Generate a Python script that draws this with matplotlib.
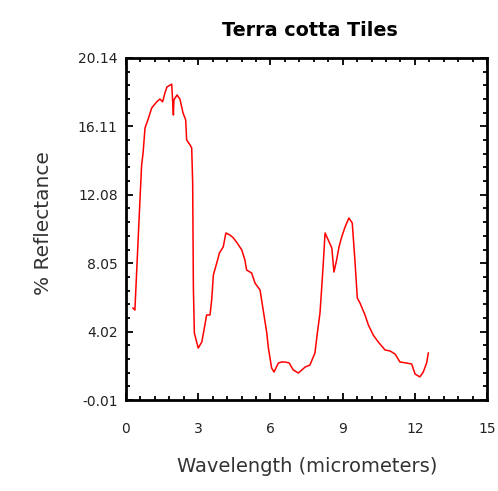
import matplotlib
matplotlib.use('Agg')
import matplotlib.pyplot as plt
from matplotlib.ticker import MultipleLocator, FixedLocator

plt.rcParams['font.family'] = ['DejaVu Sans']

# spectrum
wavelength = [0.29, 0.37, 0.58, 0.65, 0.71, 0.79, 0.91, 1.07, 1.28, 1.41, 1.52, 1.62, 1.70,
              1.90, 1.97, 1.99, 2.12, 2.24, 2.37, 2.48, 2.52, 2.66, 2.73, 2.77, 2.80, 2.84,
              3.00, 3.15, 3.24, 3.35, 3.49, 3.56, 3.63, 3.77, 3.88, 4.04, 4.15, 4.32, 4.46,
              4.62, 4.81, 4.94, 5.01, 5.22, 5.36, 5.57, 5.70, 5.85, 5.91, 6.05, 6.15, 6.33,
              6.47, 6.61, 6.78, 6.95, 7.16, 7.44, 7.64, 7.85, 7.95, 8.06, 8.13, 8.20, 8.27,
              8.40, 8.55, 8.64, 8.75, 8.85, 8.96, 9.10, 9.26, 9.40, 9.51, 9.61, 9.72, 9.93,
              10.07, 10.27, 10.48, 10.76, 10.97, 11.18, 11.38, 11.66, 11.87, 12.01, 12.21,
              12.35, 12.49, 12.56]
reflectance = [5.41, 5.29, 11.77, 13.84, 14.54, 16.02, 16.49, 17.20, 17.56, 17.72, 17.56,
               18.09, 18.43, 18.60, 16.78, 17.67, 17.96, 17.72, 16.90, 16.49, 15.31, 15.02,
               14.84, 12.78, 6.59, 3.94, 3.05, 3.41, 4.11, 5.00, 5.00, 5.88, 7.36, 8.06,
               8.65, 9.01, 9.83, 9.71, 9.54, 9.24, 8.83, 8.24, 7.65, 7.47, 6.88, 6.47, 5.29,
               3.94, 3.11, 1.88, 1.64, 2.17, 2.23, 2.23, 2.17, 1.76, 1.58, 1.93, 2.05, 2.76,
               3.94, 5.12, 6.59, 8.12, 9.83, 9.42, 8.95, 7.53, 8.24, 9.01, 9.59, 10.18, 10.71,
               10.42, 8.24, 6.00, 5.71, 5.00, 4.41, 3.82, 3.41, 2.94, 2.88, 2.70, 2.23, 2.17,
               2.11, 1.52, 1.35, 1.64, 2.17, 2.76]

x_ticks = [0, 3, 6, 9, 12, 15]
y_ticks = [-0.01, 4.02, 8.05, 12.08, 16.11, 20.14]
y_labels = ['-0.01', '4.02', '8.05', '12.08', '16.11', '20.14']

fig = plt.figure(figsize=(4.98, 4.91), dpi=100)
ax = fig.add_axes([0.253, 0.1853, 0.725, 0.6966])
ax.plot(wavelength, reflectance, color='#ff0000', linewidth=1.1)

ax.set_xlim(0, 15)
ax.set_ylim(-0.01, 20.14)
ax.set_xticks(x_ticks)
ax.set_yticks(y_ticks)
ax.set_yticklabels(y_labels)
ax.xaxis.set_minor_locator(MultipleLocator(0.6))
ax.yaxis.set_minor_locator(FixedLocator([-0.01 + i * 0.806 for i in range(26)]))
ax.tick_params(which='both', direction='in', top=True, right=True, width=1.3,
               labelsize=10, colors='black', labelcolor='#222222')
ax.tick_params(which='major', length=5)
ax.tick_params(which='minor', length=3)
ax.tick_params(axis='x', which='major', pad=16)
ax.tick_params(axis='y', which='major', pad=6)
for s in ax.spines.values():
    s.set_linewidth(2)

ax.text(0.51, 1.064, 'Terra cotta Tiles', transform=ax.transAxes,
        ha='center', va='baseline', fontsize=13.8, fontweight='bold')
ax.set_xlabel('Wavelength (micrometers)', fontsize=14, color='#333333', va='center')
ax.xaxis.set_label_coords(0.501, -0.193)
ax.set_ylabel('% Reflectance', fontsize=14.5, color='#333333', va='center')
ax.yaxis.set_label_coords(-0.2285, 0.516)

plt.savefig('out.png', dpi=100)
plt.close()
